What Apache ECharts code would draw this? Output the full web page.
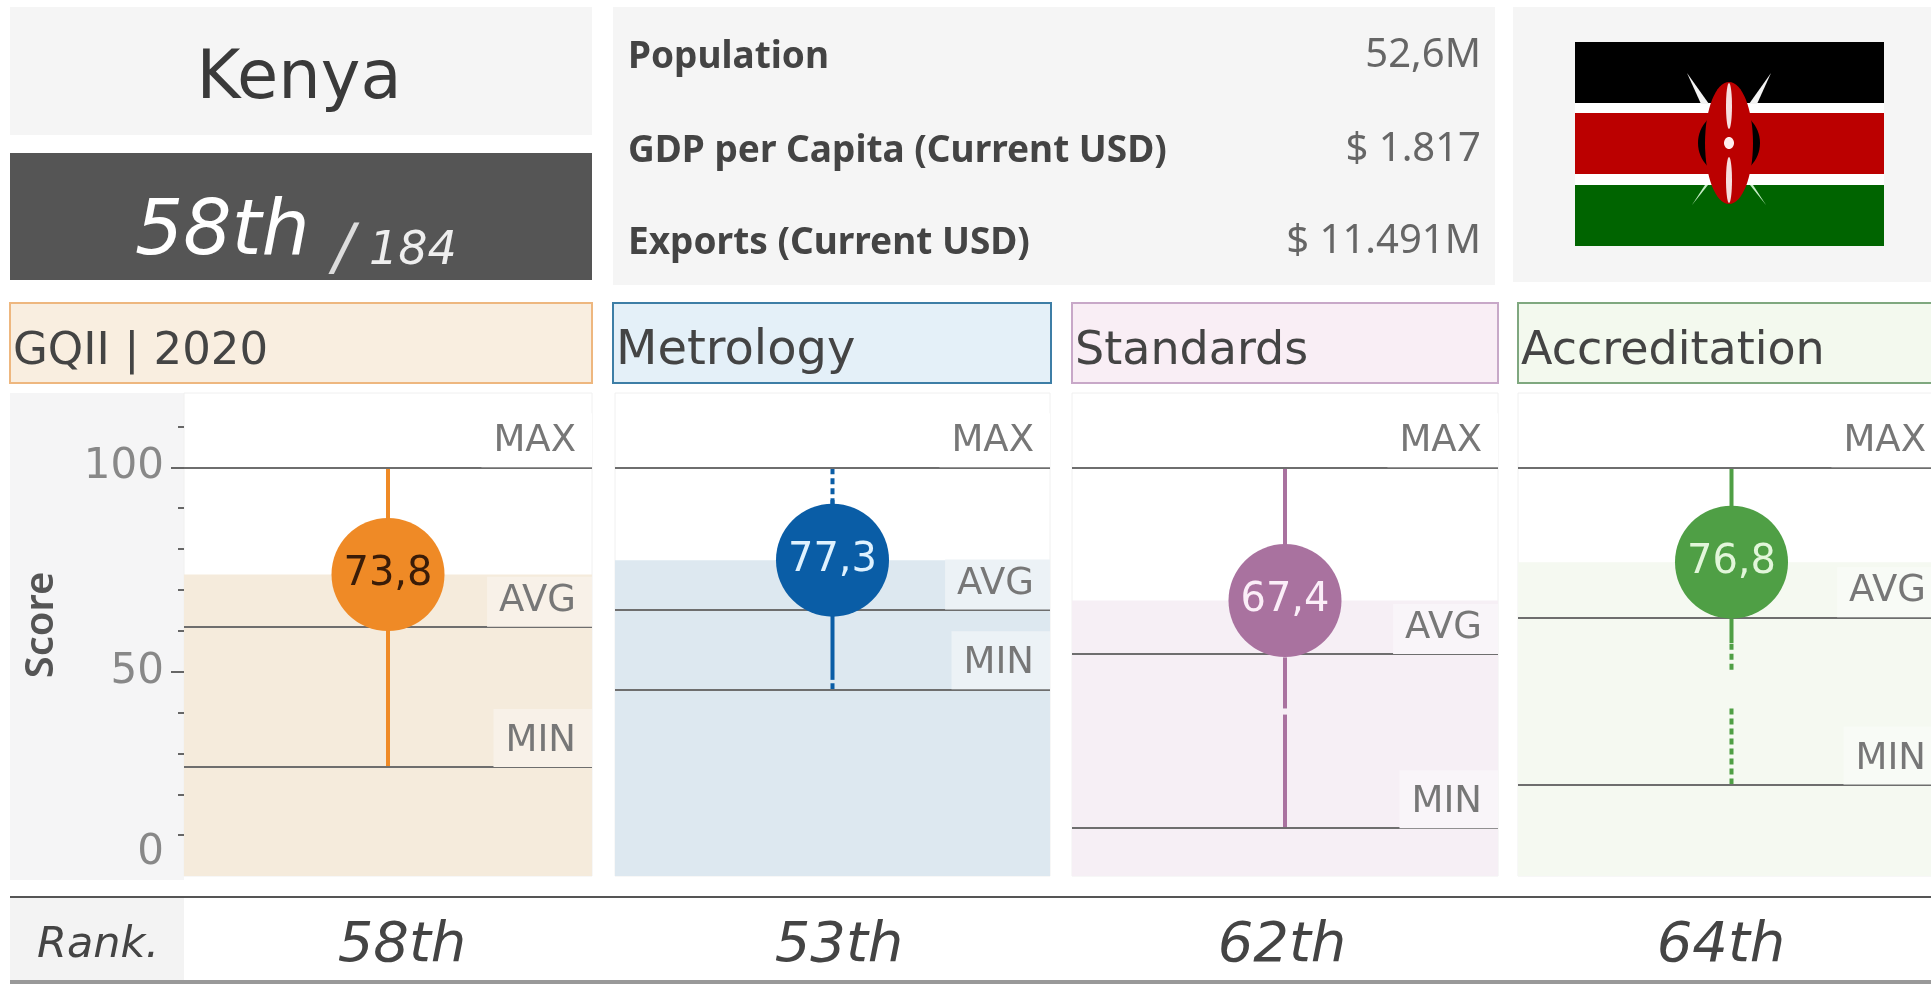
<!DOCTYPE html>
<html>
<head>
<meta charset="utf-8">
<title>Kenya GQII 2020</title>
<script src="https://cdn.jsdelivr.net/npm/echarts@6/dist/echarts.min.js"></script>
<style>
html, body { margin: 0; padding: 0; background: #fff; overflow: hidden; }
/* the last panel runs past the right edge of the window, like in the source */
#main { width: 1945px; height: 997px; }
</style>
</head>
<body>
<div id="main"></div>
<script>
const country = 'Kenya'
const overallRank = '58th'
const rankTotal = '184'
const infoLabels = ['Population', 'GDP per Capita (Current USD)', 'Exports (Current USD)']
const infoValues = ['52,6M', '$ 1.817', '$ 11.491M']

const panelNames = ['GQII | 2020', 'Metrology', 'Standards', 'Accreditation']
const panelRanks = ['58th', '53th', '62th', '64th']
const scores = [73.8, 77.3, 67.4, 76.8]
const maxScores = [100, 100, 100, 100]
const avgScores = [61, 65.2, 54.3, 63.3]
const minScores = [26.7, 45.7, 11.7, 22.4]

// whisker pieces per panel [from, to]
const solidPieces = [
    [[26.7, 100]],
    [[48, 66], [91, 92]],
    [[55, 100], [41, 53.5], [11.7, 39.5]],
    [[57, 100]]
]
const dashedPieces = [
    [],
    [[45.7, 48], [91, 100]],
    [],
    [[50.5, 57], [22.4, 41.4]]
]

const majorTicks = [50, 100]
const minorTicks = [10, 20, 30, 40, 60, 70, 80, 90, 110]
const labelTicks = [0, 50, 100]

const panelX = [[184, 408], [615, 435], [1072, 426], [1518, 427]]
const stripX = [[10, 582], [613, 438], [1072, 426], [1518, 430]]
const titleSizes = [45, 48, 46, 46]
const mainColors = ['#ef8a26', '#0a5da6', '#a9729f', '#4f9f45']
const bandColors = ['#f5ebdc', '#dde8f0', '#f6eff5', '#f5f9f1']
const tagColors = ['#f8f1e8', '#ecf2f6', '#f9f5f9', '#f8fbf6']
const stripFills = ['#f9eee0', '#e4f0f8', '#f9eef5', '#f3f9ee']
const stripBorders = ['#eeb77f', '#3d7ea6', '#c8a8c8', '#7fa87f']
const dotTextColors = ['#3a1c08', '#dff2ff', '#fbeef8', '#e2f6da']

const SANS = '"DejaVu Sans"'
const HEAD = '"Noto Sans"'
const PLOT_TOP = 393
const PLOT_BOTTOM = 876
const AXIS_MAX = 118.2

const chart = echarts.init(document.getElementById('main'))

function boxEl(x, y, w, h, fill, stroke) {
    return {
        type: 'rect', z: -1,
        shape: { x: x, y: y, width: w, height: h },
        style: { fill: fill, stroke: stroke || null, lineWidth: stroke ? 2 : 0 }
    }
}

function textEl(str, x, y, font, color, align) {
    return {
        type: 'text', z: 3, x: x, y: y,
        style: { text: str, font: font, fill: color, align: align || 'left', verticalAlign: 'middle' }
    }
}

// flag drawn by hand, it is just an illustration and holds no data
function flagEls() {
    const c = 1729, m = 143
    const spear = (pts, color) => ({
        type: 'polygon', z: 2,
        shape: { points: pts },
        style: { fill: color }
    })
    const oval = (rx, ry, cy, fill) => ({
        type: 'ellipse', z: 2,
        shape: { cx: c, cy: cy, rx: rx, ry: ry },
        style: { fill: fill }
    })
    return [
        boxEl(1575, 42, 309, 204, '#ffffff'),
        boxEl(1575, 42, 309, 61, '#000000'),
        boxEl(1575, 113, 309, 61, '#bb0000'),
        boxEl(1575, 185, 309, 61, '#006400'),
        spear([[c - 42, 73], [c - 28, 104], [c - 20, 104]], '#f4f4f4'),
        spear([[c + 42, 73], [c + 28, 104], [c + 20, 104]], '#f4f4f4'),
        spear([[c - 37, 205], [c - 24, 185], [c - 21, 185]], '#c8eec8'),
        spear([[c + 37, 205], [c + 24, 185], [c + 21, 185]], '#c8eec8'),
        oval(31, 32, m, '#000000'),
        oval(24, 61, m, '#bb0000'),
        oval(3, 23, m - 37, '#f6dede'),
        oval(3, 23, m + 37, '#f6dede'),
        oval(5, 6, m, '#ffeeee')
    ]
}

const graphicEls = [
    boxEl(10, 7, 582, 128, '#f5f5f5'),
    boxEl(10, 153, 582, 127, '#555555'),
    boxEl(613, 7, 882, 278, '#f5f5f5'),
    boxEl(1513, 7, 432, 275, '#f5f5f5'),
    boxEl(10, PLOT_TOP, 174, 487, '#f5f5f6'),
    boxEl(10, 898, 174, 83, '#f3f3f3'),
    textEl(country, 299, 81, '67px ' + SANS, '#3a3a3a', 'center'),
    textEl(overallRank, 135, 234, 'italic 76px ' + SANS, '#ffffff'),
    textEl('/', 333, 252, 'italic 200 62px ' + SANS, '#dddddd'),
    textEl(rankTotal, 369, 252, 'italic 46px ' + SANS, '#eeeeee'),
    Object.assign(textEl('Score', 42, 625, '600 40px ' + HEAD, '#555555', 'center'), { rotation: Math.PI / 2 }),
    textEl('Rank.', 37, 946, 'italic 43px ' + SANS, '#444444'),
    {
        type: 'line', z: 3,
        shape: { x1: 10, y1: 897, x2: 1945, y2: 897 },
        style: { stroke: '#555555', lineWidth: 2 }
    },
    {
        type: 'line', z: 3,
        shape: { x1: 10, y1: 982, x2: 1945, y2: 982 },
        style: { stroke: '#999999', lineWidth: 4 }
    }
].concat(flagEls())

const infoY = [57, 151, 243]
infoLabels.forEach((label, i) => {
    graphicEls.push(textEl(label, 628, infoY[i], '700 37px ' + HEAD, '#444444'))
    graphicEls.push(textEl(infoValues[i], 1481, infoY[i] - 1, '40px ' + HEAD, '#666666', 'right'))
})

const rankX = [402, 839, 1282, 1721]
panelNames.forEach((name, i) => {
    graphicEls.push(boxEl(stripX[i][0], 303, stripX[i][1], 80, stripFills[i], stripBorders[i]))
    graphicEls.push(textEl(name, stripX[i][0] + 3, 352, titleSizes[i] + 'px ' + SANS, '#444444'))
    graphicEls.push(textEl(panelRanks[i], rankX[i], 946, 'italic 56px ' + SANS, '#444444', 'center'))
})

const grids = [], xAxes = [], yAxes = [], series = []

function yAxisBase(gridIndex) {
    return {
        type: 'value', gridIndex: gridIndex, min: 0, max: AXIS_MAX, position: 'left',
        splitLine: { show: false }, axisLine: { show: false },
        axisLabel: { show: false }, axisTick: { show: false }
    }
}

panelNames.forEach((name, i) => {
    grids.push({
        left: panelX[i][0], width: panelX[i][1],
        top: PLOT_TOP, height: PLOT_BOTTOM - PLOT_TOP,
        show: true, backgroundColor: '#ffffff', borderColor: '#f0f0f0', borderWidth: 1
    })
    xAxes.push({ type: 'category', gridIndex: i, data: [name], show: false })
    const yIndex = yAxes.length
    yAxes.push(yAxisBase(i))
    if (i === 0) {
        yAxes[yIndex].axisTick = {
            show: true, customValues: majorTicks, length: 13,
            lineStyle: { color: '#666666', width: 2 }
        }
        yAxes[yIndex].axisLabel = {
            show: true, customValues: labelTicks, margin: 20,
            fontFamily: SANS, fontSize: 42, color: '#888888',
            formatter: v => v === 0 ? '{zero|0}' : String(v),
            rich: { zero: { fontFamily: SANS, fontSize: 42, color: '#888888', padding: [0, 0, 46, 0] } }
        }
        yAxes.push(Object.assign(yAxisBase(i), {
            axisTick: {
                show: true, customValues: minorTicks, length: 6,
                lineStyle: { color: '#666666', width: 2 }
            }
        }))
    }

    const rightPad = i === 3 ? 19 : 16
    const refLines = [
        { name: 'MAX', yAxis: maxScores[i], tag: '#ffffff', padTop: 10 },
        { name: 'AVG', yAxis: avgScores[i], tag: tagColors[i], padTop: 6 },
        { name: 'MIN', yAxis: minScores[i], tag: tagColors[i], padTop: 14 }
    ]
    series.push({
        type: 'bar', name: name + ' score band', xAxisIndex: i, yAxisIndex: yIndex,
        data: [scores[i]], barWidth: '100%', z: 1, silent: true,
        itemStyle: { color: bandColors[i] },
        markLine: {
            silent: true, symbol: 'none', animation: false,
            lineStyle: { color: '#6e6e6e', width: 2, type: 'solid' },
            data: refLines.map(r => ({
                name: r.name, yAxis: r.yAxis,
                label: {
                    show: true, position: 'insideEndTop', formatter: '{b}', distance: 0,
                    fontFamily: SANS, fontSize: 37, color: '#777777',
                    backgroundColor: r.tag, padding: [r.padTop, rightPad, 7, 12]
                }
            }))
        }
    })
    const whisker = (piece, type) => ({
        type: 'line', xAxisIndex: i, yAxisIndex: yIndex, z: 4, silent: true,
        symbol: 'none', data: [[0, piece[0]], [0, piece[1]]],
        lineStyle: { color: mainColors[i], width: 4, type: type }
    })
    solidPieces[i].forEach(p => series.push(whisker(p, 'solid')))
    dashedPieces[i].forEach(p => series.push(whisker(p, [6, 4])))
    series.push({
        type: 'scatter', name: name, xAxisIndex: i, yAxisIndex: yIndex, z: 5, silent: true,
        symbolSize: 113, data: [[0, scores[i]]],
        itemStyle: { color: mainColors[i], opacity: 1 },
        label: {
            show: true, position: 'inside',
            formatter: p => String(p.value[1]).replace('.', ','),
            fontFamily: SANS, fontSize: 40, color: dotTextColors[i]
        }
    })
})

chart.setOption({
    animation: false,
    backgroundColor: '#ffffff',
    grid: grids,
    xAxis: xAxes,
    yAxis: yAxes,
    series: series,
    graphic: { elements: graphicEls }
})
</script>
</body>
</html>
